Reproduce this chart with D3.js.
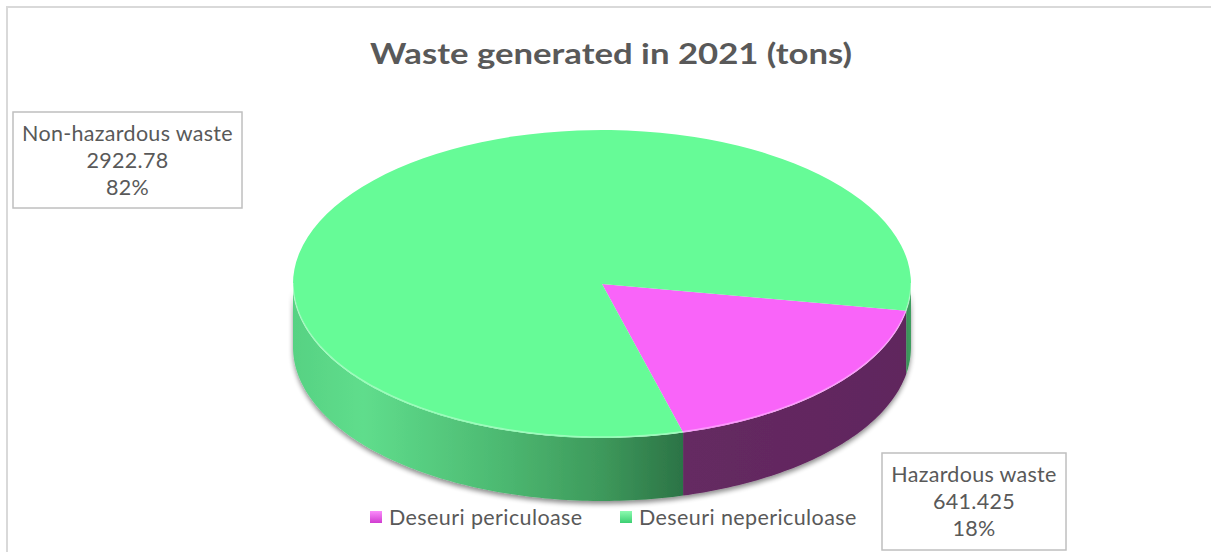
<!DOCTYPE html>
<html>
<head>
<meta charset="utf-8">
<script src="https://cdn.jsdelivr.net/npm/d3@7/dist/d3.min.js"></script>
<style>
  html, body { margin: 0; padding: 0; background: #ffffff; }
  svg { display: block; font-family: Lato, "Open Sans", sans-serif; }
</style>
</head>
<body>
<svg id="chart" width="1211" height="552"></svg>
<script>
// Waste generated in 2021, tonnes
const categories = ["Deseuri periculoase", "Deseuri nepericuloase"];
const labelNames = ["Hazardous waste", "Non-hazardous waste"];
const valueLabels = ["641.425", "2922.78"];
const values = [641.425, 2922.78];
const percentLabels = ["18%", "82%"];
const titleText = "Waste generated in 2021 (tons)";

const W = 1211, H = 552;
const svg = d3.select("#chart");

// 3D disc geometry
const cx = 602, cy = 284, rx = 309, ry = 154, depth = 63;
const deg = Math.PI / 180;
const firstAngle = 100 * deg;

const topColors = ["#f964f9", "#66fb97"];

const defs = svg.append("defs");

// side wall shading of the green slice (light at left, dark near the front)
const gGreen = defs.append("linearGradient")
  .attr("id", "sideGreen").attr("gradientUnits", "userSpaceOnUse")
  .attr("x1", cx - rx).attr("x2", 686).attr("y1", 0).attr("y2", 0);
[[0, "#57d283"], [0.18, "#5fdd8c"], [0.52, "#4dba72"], [0.78, "#3e9a5c"], [1, "#2b7245"]]
  .forEach(([o, c]) => gGreen.append("stop").attr("offset", o).attr("stop-color", c));

const gGreenR = defs.append("linearGradient")
  .attr("id", "sideGreenR").attr("gradientUnits", "userSpaceOnUse")
  .attr("x1", cx + rx - 12).attr("x2", cx + rx).attr("y1", 0).attr("y2", 0);
[[0, "#2f7a4a"], [1, "#3f9f60"]]
  .forEach(([o, c]) => gGreenR.append("stop").attr("offset", o).attr("stop-color", c));

const gPurple = defs.append("linearGradient")
  .attr("id", "sidePurple").attr("gradientUnits", "userSpaceOnUse")
  .attr("x1", 686).attr("x2", cx + rx).attr("y1", 0).attr("y2", 0);
[[0, "#652a62"], [1, "#60255d"]]
  .forEach(([o, c]) => gPurple.append("stop").attr("offset", o).attr("stop-color", c));

// soft shadow under the disc
const sh = defs.append("filter").attr("id", "shadow")
  .attr("x", "-10%").attr("y", "-10%").attr("width", "120%").attr("height", "130%");
sh.append("feGaussianBlur").attr("in", "SourceAlpha").attr("stdDeviation", 2.5).attr("result", "b");
sh.append("feOffset").attr("in", "b").attr("dx", 0).attr("dy", 3).attr("result", "o");
sh.append("feComponentTransfer").attr("in", "o").attr("result", "s")
  .append("feFuncA").attr("type", "linear").attr("slope", 0.45);
const mg = sh.append("feMerge");
mg.append("feMergeNode").attr("in", "s");
mg.append("feMergeNode").attr("in", "SourceGraphic");

// legend marker gradients
function markerGrad(id, light, dark) {
  const g = defs.append("linearGradient").attr("id", id)
    .attr("x1", 0).attr("x2", 0).attr("y1", 0).attr("y2", 1);
  g.append("stop").attr("offset", 0).attr("stop-color", light);
  g.append("stop").attr("offset", 1).attr("stop-color", dark);
}
markerGrad("mk0", "#fb8cfb", "#d03cd0");
markerGrad("mk1", "#8cfbb0", "#3ccf72");

// chart-area border
svg.append("rect")
  .attr("x", 7).attr("y", 7).attr("width", W + 10).attr("height", H + 10)
  .attr("fill", "none").attr("stroke", "#d9d9d9").attr("stroke-width", 2);

// title
svg.append("text")
  .attr("x", 611).attr("y", 64)
  .attr("text-anchor", "middle")
  .attr("font-size", 29).attr("font-weight", 700)
  .attr("fill", "#595959")
  .attr("textLength", 482).attr("lengthAdjust", "spacingAndGlyphs")
  .text(titleText);

// pie layout: slices run clockwise from the first-slice angle
const pie = d3.pie().sort(null).value(d => d)
  .startAngle(firstAngle).endAngle(firstAngle + 2 * Math.PI);
const arcs = pie(values);

const px = a => cx + rx * Math.sin(a);
const py = a => cy - ry * Math.cos(a);

// side wall between angles a0..a1 (front half only)
function sidePath(a0, a1) {
  const n = Math.max(8, Math.ceil((a1 - a0) / deg));
  const p = d3.path();
  for (let i = 0; i <= n; i++) {
    const a = a0 + (a1 - a0) * i / n;
    i === 0 ? p.moveTo(px(a), py(a)) : p.lineTo(px(a), py(a));
  }
  for (let i = n; i >= 0; i--) {
    const a = a0 + (a1 - a0) * i / n;
    p.lineTo(px(a), py(a) + depth);
  }
  p.closePath();
  return p.toString();
}

function visibleRanges(a0, a1) {
  const out = [];
  for (let k = -1; k <= 1; k++) {
    const lo = Math.PI / 2 + k * 2 * Math.PI, hi = 3 * Math.PI / 2 + k * 2 * Math.PI;
    const s = Math.max(a0, lo), e = Math.min(a1, hi);
    if (e > s) out.push([s, e]);
  }
  return out;
}

const sides = svg.append("g").attr("filter", "url(#shadow)");
arcs.forEach((d, i) => {
  visibleRanges(d.startAngle, d.endAngle).forEach(([s, e]) => {
    let fill;
    if (i === 0) fill = "url(#sidePurple)";
    else fill = (e - s > 0.5) ? "url(#sideGreen)" : "url(#sideGreenR)";
    sides.append("path").attr("d", sidePath(s, e)).attr("fill", fill);
  });
});

// top faces: circular arcs squashed into ellipses
const arc = d3.arc().innerRadius(0).outerRadius(rx);
const topFace = svg.append("g")
  .attr("transform", `translate(${cx},${cy}) scale(1,${ry / rx})`);
topFace.selectAll("path").data(arcs).join("path")
  .attr("d", arc)
  .attr("fill", (d, i) => topColors[i]);

// faint light rim along the front edge of the top face
const rim = d3.path();
for (let i = 0; i <= 180; i++) {
  const a = Math.PI / 2 + i * deg;
  i === 0 ? rim.moveTo(px(a), py(a) - 1) : rim.lineTo(px(a), py(a) - 1);
}
svg.append("path").attr("d", rim.toString())
  .attr("fill", "none").attr("stroke", "rgba(255,255,255,0.35)").attr("stroke-width", 1.5);

// data label boxes
const boxes = [
  { x: 882, y: 453, w: 184, h: 97 },
  { x: 13, y: 112, w: 229, h: 96 }
];
boxes.forEach((b, i) => {
  const g = svg.append("g");
  g.append("rect")
    .attr("x", b.x).attr("y", b.y).attr("width", b.w).attr("height", b.h)
    .attr("fill", "#ffffff").attr("stroke", "#bfbfbf").attr("stroke-width", 1.5);
  const lines = [labelNames[i], valueLabels[i], percentLabels[i]];
  lines.forEach((t, j) => {
    g.append("text")
      .attr("x", b.x + b.w / 2).attr("y", b.y + 29 + j * 27)
      .attr("text-anchor", "middle")
      .attr("font-size", 21.5).attr("letter-spacing", 0.3).attr("fill", "#595959")
      .text(t);
  });
});

// legend
const legendX = [370, 620];
const legend = svg.append("g");
categories.forEach((c, i) => {
  legend.append("rect")
    .attr("x", legendX[i]).attr("y", 511).attr("width", 12).attr("height", 12)
    .attr("fill", `url(#mk${i})`);
  legend.append("text")
    .attr("x", legendX[i] + 19).attr("y", 525)
    .attr("font-size", 21.5).attr("letter-spacing", 0.4).attr("fill", "#595959")
    .text(c);
});
</script>
</body>
</html>
